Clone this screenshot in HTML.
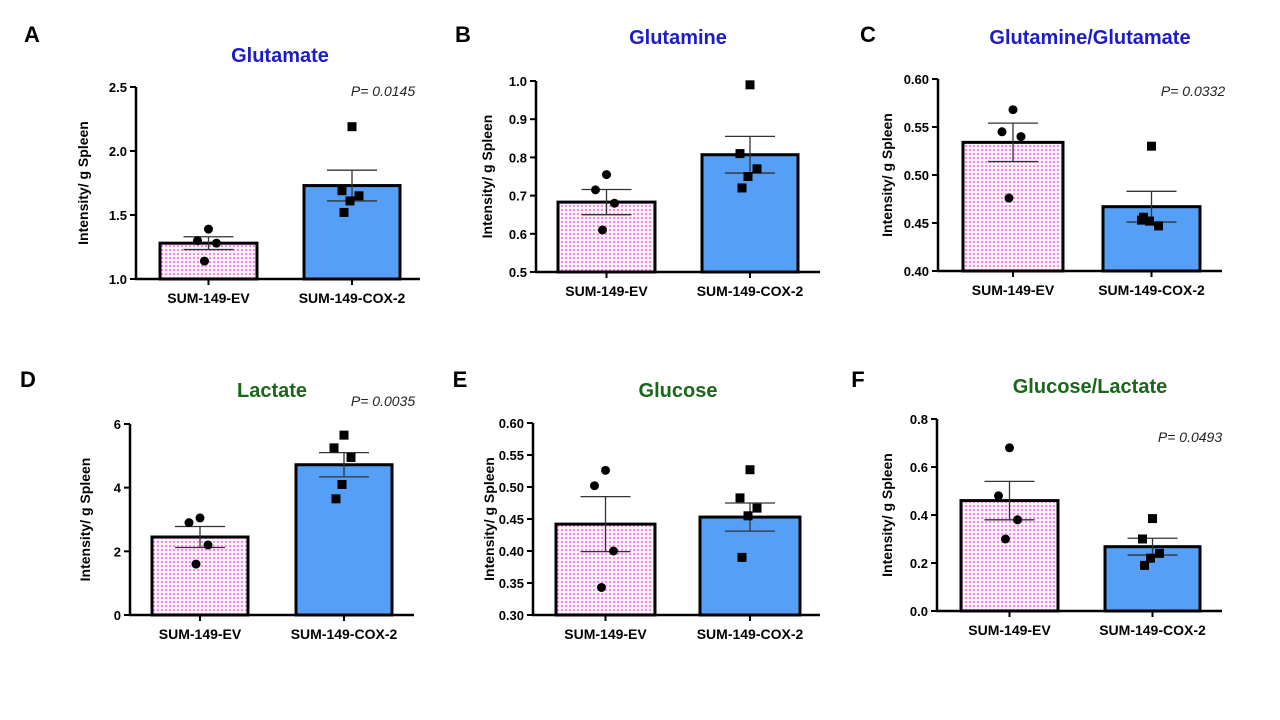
<!DOCTYPE html>
<html><head><meta charset="utf-8">
<style>
html,body{margin:0;padding:0;background:#fff;}
svg{display:block;font-family:"Liberation Sans",Arial,sans-serif;}
</style></head>
<body>
<svg id="fig" width="1280" height="720" viewBox="0 0 1280 720">
<defs>
<pattern id="dots" width="4" height="4" patternUnits="userSpaceOnUse">
<rect width="4" height="4" fill="#fdf2fb"/>
<rect x="1" y="1" width="2" height="2" fill="#f08ce4"/>
</pattern>
</defs>
</svg>
<script>
const categories = ["SUM-149-EV","SUM-149-COX-2"];
const titles = ["Glutamate","Glutamine","Glutamine/Glutamate","Lactate","Glucose","Glucose/Lactate"];
const letters = ["A","B","C","D","E","F"];
const pvalues = ["P= 0.0145","","P= 0.0332","P= 0.0035","","P= 0.0493"];
const evMeans = [1.28,0.683,0.534,2.45,0.442,0.46];
const evSems = [0.05,0.033,0.02,0.33,0.043,0.08];
const coxMeans = [1.73,0.807,0.467,4.72,0.453,0.268];
const coxSems = [0.12,0.048,0.016,0.38,0.022,0.035];
const evPoints = [[1.39,1.30,1.28,1.14],[0.755,0.715,0.68,0.61],[0.568,0.545,0.54,0.476],[3.05,2.9,2.2,1.6],[0.526,0.502,0.40,0.343],[0.68,0.48,0.38,0.30]];
const coxPoints = [[2.19,1.69,1.65,1.61,1.52],[0.99,0.81,0.77,0.75,0.72],[0.53,0.453,0.447,0.452,0.456],[5.65,5.25,4.95,4.1,3.65],[0.527,0.483,0.467,0.455,0.39],[0.385,0.30,0.24,0.22,0.19]];
const yTicks = [["1.0","1.5","2.0","2.5"],["0.5","0.6","0.7","0.8","0.9","1.0"],["0.40","0.45","0.50","0.55","0.60"],["0","2","4","6"],["0.30","0.35","0.40","0.45","0.50","0.55","0.60"],["0.0","0.2","0.4","0.6","0.8"]];

const L = [
 {ax:136,top:87,bot:279,xr:420,b1:[160,257],b2:[304,400],tx:280,ty:62,lx:32,ly:42,px:383,py:96,yl:88,col:"#1c1cc8"},
 {ax:536,top:81,bot:272,xr:820,b1:[558,655],b2:[702,798],tx:678,ty:44,lx:463,ly:42,px:0,py:0,yl:492,col:"#1c1cc8"},
 {ax:938,top:79,bot:271,xr:1222,b1:[963,1063],b2:[1103,1200],tx:1090,ty:44,lx:868,ly:42,px:1193,py:96,yl:892,col:"#1c1cc8"},
 {ax:130,top:424,bot:615,xr:414,b1:[152,248],b2:[296,392],tx:272,ty:397,lx:28,ly:387,px:383,py:406,yl:90,col:"#1a661a"},
 {ax:533,top:423,bot:615,xr:820,b1:[556,655],b2:[700,800],tx:678,ty:397,lx:460,ly:387,px:0,py:0,yl:494,col:"#1a661a"},
 {ax:937,top:419,bot:611,xr:1222,b1:[961,1058],b2:[1105,1200],tx:1090,ty:393,lx:858,ly:387,px:1190,py:442,yl:892,col:"#1a661a"}
];
const evOff=[0,-11,8,-4], coxOff=[0,-10,7,-2,-8];
const NS="http://www.w3.org/2000/svg";
const svg=document.getElementById('fig');
function mk(tag,attrs,parent){const e=document.createElementNS(NS,tag);for(const k in attrs)e.setAttribute(k,attrs[k]);(parent||svg).appendChild(e);return e;}
function line(g,x1,y1,x2,y2,w,c){return mk('line',{x1,y1,x2,y2,stroke:c||'#000','stroke-width':w},g);}

for(let i=0;i<6;i++){
 const c=L[i];
 const g=mk('g',{});
 
 
 const t=yTicks[i];const ymin=+t[0],ymax=+t[t.length-1];
 const y=v=>c.bot-(v-ymin)/(ymax-ymin)*(c.bot-c.top);
 const lt=mk('text',{x:c.lx,y:c.ly,'font-size':22,'font-weight':'bold','text-anchor':'middle'},g);lt.textContent=letters[i];
 
 const tt=mk('text',{x:c.tx,y:c.ty,'font-size':20,'font-weight':'bold',fill:c.col,'text-anchor':'middle'},g);tt.textContent=titles[i];
 
 if(pvalues[i]){const p=mk('text',{x:c.px,y:c.py,'font-size':14,'font-style':'italic','text-anchor':'middle',fill:'#222'},g);p.textContent=pvalues[i];
  }
 const yl=mk('text',{x:c.yl,y:(c.top+c.bot)/2,'font-size':14,'font-weight':'bold','text-anchor':'middle',transform:`rotate(-90 ${c.yl} ${(c.top+c.bot)/2})`},g);yl.textContent="Intensity/ g Spleen";
 
 const bars=[[c.b1,evMeans[i],evSems[i],evPoints[i],'url(#dots)',evOff,'circle'],[c.b2,coxMeans[i],coxSems[i],coxPoints[i],'#559ff7',coxOff,'square']];
 bars.forEach((b,j)=>{
  const [x1,x2]=b[0];const cx=(x1+x2)/2;
  const r=mk('rect',{x:x1,y:y(b[1]),width:x2-x1,height:c.bot-y(b[1]),fill:b[4],stroke:'#000','stroke-width':3},g);
  
  const hi=y(b[1]+b[2]),lo=y(b[1]-b[2]);
  const eb=mk('g',{},g);
  line(eb,cx,hi,cx,lo,1.3,'#333');line(eb,cx-25,hi,cx+25,hi,1.3,'#333');line(eb,cx-25,lo,cx+25,lo,1.3,'#333');
  b[3].forEach((v,k)=>{
   const px=cx+b[5][k%b[5].length];let m;
   if(b[6]==='circle')m=mk('circle',{cx:px,cy:y(v),r:4.5,fill:'#000'},g);
   else m=mk('rect',{x:px-4.5,y:y(v)-4.5,width:9,height:9,fill:'#000'},g);
   
  });
  line(g,cx,c.bot,cx,c.bot+6,2);
  const xl=mk('text',{x:cx,y:c.bot+24,'font-size':14,'font-weight':'bold','text-anchor':'middle'},g);xl.textContent=categories[j];
  
 });
 const ya=line(g,c.ax,c.top,c.ax,c.bot+1,2.5);
 const xa=line(g,c.ax-1,c.bot,c.xr,c.bot,2.5);
 t.forEach(s=>{const yy=y(+s);line(g,c.ax-6,yy,c.ax,yy,2);
  const tl=mk('text',{x:c.ax-9,y:yy+5,'font-size':13,'font-weight':'bold','text-anchor':'end'},g);tl.textContent=s;
  });
}
</script>
</body></html>
